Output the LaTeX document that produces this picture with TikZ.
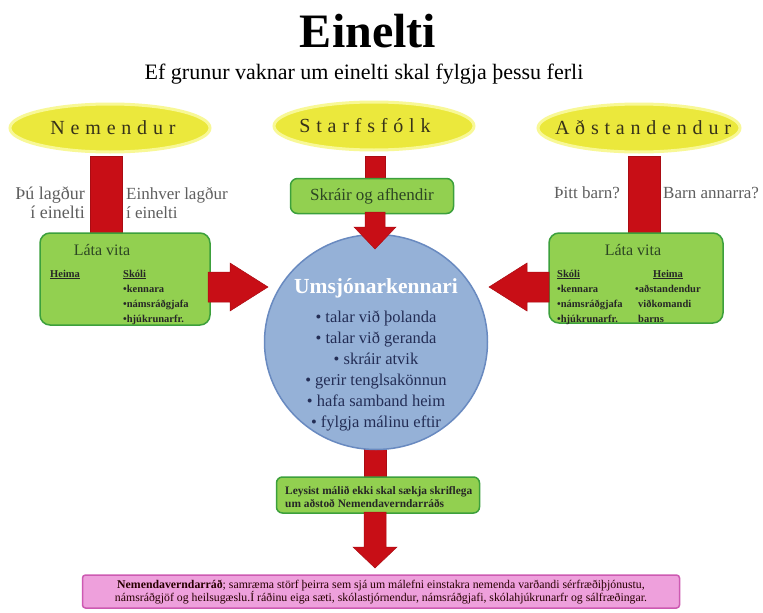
\documentclass[tikz,border=0pt]{standalone}
\usepackage{fontspec}
\setmainfont{Liberation Serif}
\usetikzlibrary{shapes.geometric}
\definecolor{ylw}{RGB}{235,232,60}
\definecolor{ylwlight}{RGB}{248,248,150}
\definecolor{roletext}{RGB}{55,50,25}
\definecolor{grn}{RGB}{146,208,80}
\definecolor{grnd}{RGB}{60,160,60}
\definecolor{redarr}{RGB}{200,14,22}
\definecolor{blu}{RGB}{149,177,215}
\definecolor{blud}{RGB}{105,138,192}
\definecolor{pnk}{RGB}{238,160,220}
\definecolor{pnkd}{RGB}{205,90,178}
\definecolor{txtgrey}{RGB}{95,95,95}
\definecolor{txtgreen}{RGB}{45,70,35}
\definecolor{navy}{RGB}{35,45,85}
\begin{document}
\begin{tikzpicture}[x=1pt,y=-1pt,
  rolebox/.style={ellipse, minimum width=200, minimum height=48, fill=ylw, draw=ylwlight, line width=3},
  roletxt/.style={text=roletext, inner sep=0, font={\fontsize{20}{22}\selectfont\addfontfeatures{LetterSpace=29}}},
  greenbox/.style={draw=grnd, line width=1.5, fill=grn, rounded corners=10},
  redshape/.style={fill=redarr, draw=redarr!85!black, line width=0.5},
  sidelabel/.style={text=txtgrey, font={\fontsize{17}{19}\selectfont}, inner sep=0},
  small/.style={font={\bfseries\fontsize{10.5}{15}\selectfont}, text=black!85, inner sep=0, anchor=base west},
  boxhead/.style={font={\fontsize{16}{18}\selectfont}, text=txtgreen, inner sep=0}
]
\useasboundingbox (0,0) rectangle (763,613);
\fill[white] (0,0) rectangle (763,613);

% title
\node (title) at (368,31) {\bfseries\fontsize{48}{50}\selectfont Einelti};
\node (subtitle) at (364,74) {\fontsize{22}{24}\selectfont Ef grunur vaknar um einelti skal fylgja þessu ferli};

% red bars behind boxes
\fill[redshape] (90,156) rectangle (122,240);
\fill[redshape] (628,156) rectangle (660,240);
\fill[redshape] (365,156) rectangle (385,182);
\fill[redshape] (364,440) rectangle (386,480);

% role ellipses
\node[rolebox] (nem) at (110,128) {};
\node[rolebox] (starf) at (374,126) {};
\node[rolebox, minimum width=202] (adst) at (639,128) {};
\node[roletxt] (nemtxt) at (113,128) {Nemendur};
\node[roletxt] (starftxt) at (365,126) {Starfsfólk};
\node[roletxt] (adsttxt) at (643,128) {Aðstandendur};

% side labels
\node[sidelabel, anchor=east, align=right, font={\fontsize{18}{19}\selectfont}] (lab1) at (85,203) {Þú lagður\\í einelti};
\node[sidelabel, anchor=west, align=left] (lab2) at (126,203) {Einhver lagður\\í einelti};
\node[sidelabel, anchor=east] (lab3) at (620,193) {Þitt barn?};
\node[sidelabel, anchor=west] (lab4) at (663,193) {Barn annarra?};

% green boxes
\node[greenbox, minimum width=170, minimum height=92] (lbox) at (125,279) {};
\node[greenbox, minimum width=174, minimum height=90] (rbox) at (636,278) {};
\node[greenbox, minimum width=163, minimum height=35, rounded corners=7, boxhead, font={\fontsize{17}{19}\selectfont}] (skra) at (372,196) {Skráir og afhendir};

% circle
\node[ellipse, draw=blud, line width=1.5, fill=blu, minimum width=223, minimum height=215] (umsj) at (376,342) {};
\node[text=white, font={\bfseries\fontsize{21.5}{24}\selectfont}, inner sep=0] (utitle) at (376,288) {Umsjónarkennari};
\node[text=navy, font={\fontsize{16.5}{21}\selectfont}, align=center, inner sep=0] (ulist) at (376,371)
  {• talar við þolanda\\• talar við geranda\\• skráir atvik\\• gerir tenglsakönnun\\• hafa samband heim\\• fylgja málinu eftir};

% arrows into circle
\filldraw[redshape] (365,212) -- (385,212) -- (385,227) -- (396,227) -- (375,249) -- (354,227) -- (365,227) -- cycle;
\filldraw[redshape] (208,272) -- (230,272) -- (230,263) -- (268,287) -- (230,311) -- (230,302) -- (208,302) -- cycle;
\filldraw[redshape] (549,272) -- (527,272) -- (527,263) -- (489,287) -- (527,311) -- (527,302) -- (549,302) -- cycle;

% left box content
\node[boxhead] (llata) at (102,250) {Láta vita};
\node[small] (lheima) at (50,277) {\underline{Heima}};
\node[small] (lskoli) at (123,277) {\underline{Skóli}};
\node[small] (l1) at (123,292) {•kennara};
\node[small] (l2) at (123,307) {•námsráðgjafa};
\node[small] (l3) at (123,322) {•hjúkrunarfr.};

% right box content
\node[boxhead] (rlata) at (633,250) {Láta vita};
\node[small] (rskoli) at (557,277) {\underline{Skóli}};
\node[small] (r1) at (557,292) {•kennara};
\node[small] (r2) at (557,307) {•námsráðgjafa};
\node[small] (r3) at (557,322) {•hjúkrunarfr.};
\node[small] (rheima) at (653,277) {\underline{Heima}};
\node[small] (r4) at (635,292) {•aðstandendur};
\node[small] (r5) at (638,307) {viðkomandi};
\node[small] (r6) at (638,322) {barns};

% bottom
\node[greenbox, minimum width=203, minimum height=36, rounded corners=6] (leys) at (378,495) {};
\node[anchor=west, align=left, inner sep=0, text=black!85, font={\bfseries\fontsize{11.4}{13}\selectfont}] (leystxt) at (285,497)
  {Leysist málið ekki skal sækja skriflega\\um aðstoð Nemendaverndarráðs};
\filldraw[redshape] (364,512) -- (386,512) -- (386,547) -- (397,547) -- (375,568) -- (353,547) -- (364,547) -- cycle;

\node[draw=pnkd, fill=pnk, line width=1.5, rounded corners=3, minimum width=597, minimum height=33] (nvr) at (381,591.5) {};
\node[align=center, inner sep=0, text=black!85!red, font={\fontsize{11.8}{13}\selectfont}] (nvrtxt) at (381,592)
  {\textbf{Nemendaverndarráð}; samræma störf þeirra sem sjá um málefni einstakra nemenda varðandi sérfræðiþjónustu,\\námsráðgjöf og heilsugæslu.Í ráðinu eiga sæti, skólastjórnendur, námsráðgjafi, skólahjúkrunarfr og sálfræðingar.};
\end{tikzpicture}
\end{document}
